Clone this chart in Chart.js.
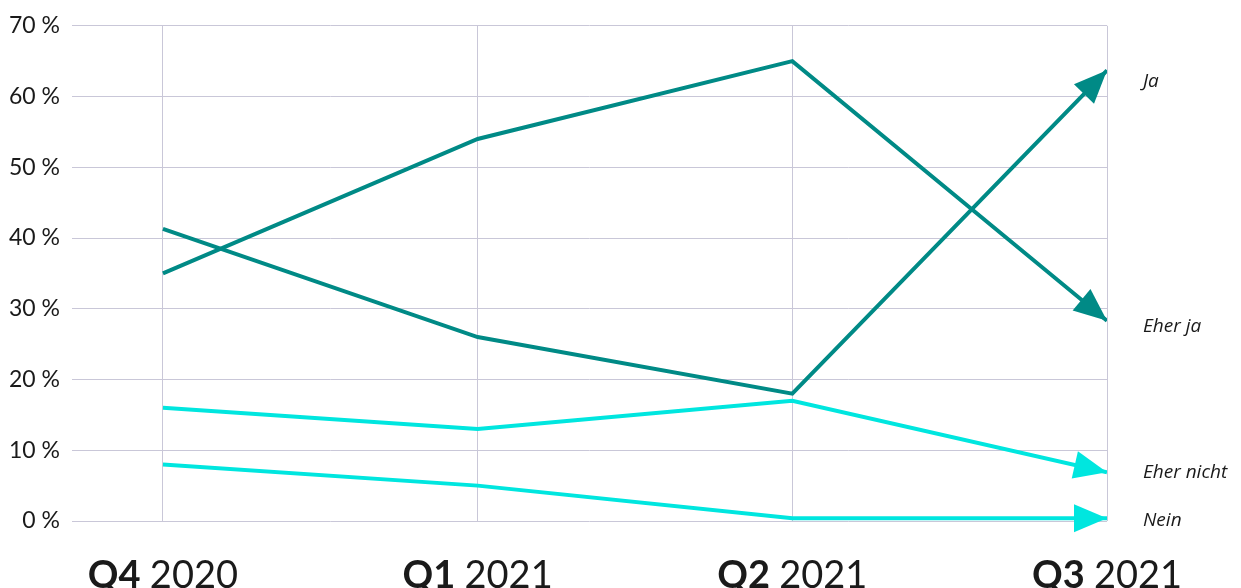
<!DOCTYPE html>
<html>
<head>
<meta charset="utf-8">
<script src="https://cdn.jsdelivr.net/npm/chart.js@4"></script>
<style>
	html, body { margin: 0; padding: 0; background: #ffffff; }
	#wrap { width: 1241px; height: 588px; }
</style>
</head>
<body>
<div id="wrap"><canvas id="main_chart"></canvas></div>
<script>
const quarters = ["Q4", "Q1", "Q2", "Q3"];
const years = ["2020", "2021", "2021", "2021"];
const seriesNames = ["Ja", "Eher ja", "Eher nicht", "Nein"];
const ja = [41.3, 26, 18, 63.7];
const eherJa = [35, 54, 65, 28.3];
const eherNicht = [16, 13, 17, 6.9];
const nein = [8, 5, 0.4, 0.4];
const yTicks = [0, 10, 20, 30, 40, 50, 60, 70];

const teal = "#008a86";
const cyan = "#00e6df";
const grid = "#c9c7d8";

function toPoints(values) {
	return values.map((v, i) => ({ x: i, y: v }));
}

const arrowPlugin = {
	id: 'arrows',
	afterDatasetsDraw(chart) {
		const c = chart.ctx;
		chart.data.datasets.forEach((ds, i) => {
			const pts = chart.getDatasetMeta(i).data;
			const a = pts[pts.length - 2];
			const b = pts[pts.length - 1];
			const ang = Math.atan2(b.y - a.y, b.x - a.x);
			const len = 33, half = 14;
			c.save();
			c.translate(b.x, b.y);
			c.rotate(ang);
			c.fillStyle = ds.borderColor;
			c.beginPath();
			c.moveTo(0, 0);
			c.lineTo(-len, -half);
			c.lineTo(-len, half);
			c.closePath();
			c.fill();
			c.restore();
		});
	}
};

// nudges so the series names sit where the original has them
const nameNudge = [11, 6, 0, 2];

const labelPlugin = {
	id: 'labels',
	afterDraw(chart) {
		const c = chart.ctx;
		const xs = chart.scales.x;
		c.save();
		c.fillStyle = '#1a1a1a';
		c.textBaseline = 'alphabetic';
		for (let i = 0; i < quarters.length; i++) {
			const boldPart = quarters[i] + ' ';
			c.font = 'bold 38px Lato';
			const w1 = c.measureText(boldPart).width;
			c.font = '38px Lato';
			const w2 = c.measureText(years[i]).width;
			const x0 = xs.getPixelForValue(i) - (w1 + w2) / 2;
			c.font = 'bold 38px Lato';
			c.textAlign = 'left';
			c.fillText(boldPart, x0, 588);
			c.font = '38px Lato';
			c.fillText(years[i], x0 + w1, 588);
		}
		c.font = 'italic 19px "Open Sans"';
		c.textBaseline = 'middle';
		chart.data.datasets.forEach((ds, i) => {
			const pts = chart.getDatasetMeta(i).data;
			const p = pts[pts.length - 1];
			c.fillText(seriesNames[i], 1143, p.y + nameNudge[i]);
		});
		c.restore();
	}
};

new Chart(document.getElementById('main_chart'), {
	type: 'line',
	data: {
		datasets: [
			{ label: seriesNames[0], data: toPoints(ja), borderColor: teal },
			{ label: seriesNames[1], data: toPoints(eherJa), borderColor: teal },
			{ label: seriesNames[2], data: toPoints(eherNicht), borderColor: cyan },
			{ label: seriesNames[3], data: toPoints(nein), borderColor: cyan },
		],
	},
	options: {
		responsive: true,
		maintainAspectRatio: false,
		animation: false,
		elements: {
			line: { borderWidth: 4, tension: 0, borderCapStyle: 'butt' },
			point: { radius: 0 },
		},
		layout: {
			padding: { top: 24, right: 134, bottom: 67, left: 0 },
		},
		plugins: {
			legend: { display: false },
			tooltip: { enabled: false },
		},
		scales: {
			x: {
				type: 'linear',
				min: -0.289,
				max: 3,
				afterBuildTicks: (scale) => {
					scale.ticks = [0, 1, 2, 3].map(v => ({ value: v }));
				},
				ticks: { display: false },
				grid: { color: grid, drawTicks: false, lineWidth: 1 },
				border: { display: false },
			},
			y: {
				min: 0,
				max: 70,
				afterBuildTicks: (scale) => {
					scale.ticks = yTicks.map(v => ({ value: v }));
				},
				afterFit: (scale) => { scale.width = 72; },
				ticks: {
					color: '#1a1a1a',
					padding: 12,
					font: { family: 'Lato', size: 23 },
					callback: (v) => v + ' %',
				},
				grid: { color: grid, drawTicks: false, lineWidth: 1 },
				border: { display: false },
			},
		},
	},
	plugins: [arrowPlugin, labelPlugin],
});
</script>
</body>
</html>
